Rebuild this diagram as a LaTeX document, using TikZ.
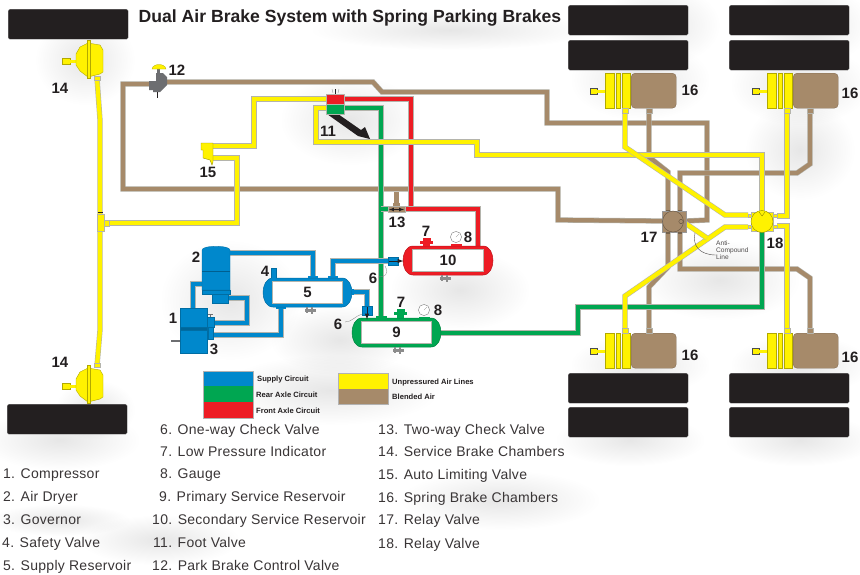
\documentclass[tikz,border=0pt]{standalone}
\usepackage{fontspec}
\setmainfont{Liberation Sans}
\usetikzlibrary{fadings}
\definecolor{cblue}{HTML}{0088CC}
\definecolor{cgreen}{HTML}{00A651}
\definecolor{cred}{HTML}{ED1C24}
\definecolor{cyel}{HTML}{FFF200}
\definecolor{cbrown}{HTML}{A68A6A}
\definecolor{cblack}{HTML}{231F20}
\definecolor{cgray}{HTML}{6D6E71}
\definecolor{edge}{HTML}{B4B4AC}
\tikzfading[name=blob,inner color=transparent!25,outer color=transparent!100]
\newcommand{\pipe}[3][4.2]{%
  \draw[line width=#1pt+1.1pt,edge,line join=miter] #3;
  \draw[line width=#1pt,#2,line join=miter] #3;}
\newcommand{\wheel}[3]{\node[wheelbox,anchor=north west] (#1) at (#2,#3) {};}
\newcommand{\blob}[4]{\fill[black,opacity=.13,path fading=blob] (#1,#2) ellipse[x radius=#3,y radius=#4];}
% spring brake chamber: name, x, y
\newcommand{\springch}[3]{%
  \fill[cyel] (#2-15,#3+15) rectangle (#2-8,#3+21);
  \draw[cgray!70!black,line width=.3pt] (#2-15,#3+15) rectangle (#2-8,#3+21);
  \fill[cyel] (#2-8,#3+16.5) rectangle (#2,#3+19.5);
  \foreach \a/\b in {0/9,11/15,17/25}{\filldraw[fill=cyel,draw=cyel!70!black,line width=.4pt] (#2+\a,#3) rectangle (#2+\b,#3+35);}
  \node[draw=cbrown!80!black,line width=.4pt,fill=cbrown,rounded corners=4pt,anchor=north west,minimum width=45pt,minimum height=35pt,inner sep=0pt] (#1) at (#2+26,#3) {};}
% service brake chamber: name, y
\newcommand{\servicech}[2]{%
  \coordinate (#1) at (90,#2);
  \fill[cyel,draw=cyel!70!black,line width=.3pt] (62,#2+18) rectangle (70,#2+24);
  \fill[cyel] (70,#2+19.5) rectangle (76,#2+22.5);
  \filldraw[fill=cyel,draw=cyel!70!black,line width=.4pt] (80,#2+7)--(88,#2+3)--(100,#2+5)--(103,#2+10)--(103,#2+32)--(100,#2+34)--(88,#2+37)--(80,#2+31)--(76,#2+25)--(76,#2+14)--cycle;
  \filldraw[fill=cyel,draw=cyel!70!black,line width=.4pt] (87,#2) rectangle (90,#2+38);}
% tank: name,x1,y1,x2,y2,colour,label
\newcommand{\tank}[7]{%
  \filldraw[fill=#6,draw=#6!80!black,line width=.5pt] (#2+10,#3)--(#4-10,#3) .. controls (#4-3,#3) and (#4,#3+8) .. (#4,{(#3+#5)/2}) .. controls (#4,#5-8) and (#4-3,#5) .. (#4-10,#5)--(#2+10,#5) .. controls (#2+3,#5) and (#2,#5-8) .. (#2,{(#3+#5)/2}) .. controls (#2,#3+8) and (#2+3,#3) .. cycle;
  \node[fill=white,draw=edge,line width=.4pt,font=\lab,minimum width=#4pt-#2pt-19pt,minimum height=#5pt-#3pt-7pt,inner sep=0pt] (#1) at ({(#2+#4)/2},{(#3+#5)/2}) {#7};}
\newcommand{\drain}[2]{%
  \fill[gray!90] (#1-5,#2-1.5) rectangle (#1+6,#2+1.5);
  \fill[gray!90] (#1-4,#2-3) rectangle (#1-2,#2+3);
  \fill[gray!90] (#1+1,#2-3.5) rectangle (#1+3,#2+4);}
\newcommand{\gauge}[3]{%
  \filldraw[fill=white,draw=gray,line width=.4pt] (#1,#2) circle (5.6);
  \draw[gray,line width=.3pt] (#1,#2) -- (#1+3,#2-3);
  \fill[#3] (#1-5.5,#2+6.5) rectangle (#1+5.5,#2+8.5);}
\newcommand{\lab}{\fontsize{15}{15}\selectfont\bfseries\color{cblack}}
\tikzset{
  wheelbox/.style={fill=cblack,draw=gray!70,line width=.3pt,rounded corners=1.5pt,minimum width=120pt,minimum height=30pt,inner sep=0pt},
  tag/.style={font=\lab,inner sep=0pt},
  item/.style={font=\fontsize{14}{15}\selectfont\addfontfeature{LetterSpace=2},color=cblack!90,inner sep=0pt,anchor=base west},
  leg/.style={font=\fontsize{7.6}{9}\selectfont\bfseries,color=cblack,inner sep=0pt,anchor=west},
  fit box/.style={draw=gray!60,line width=.4pt}
}
\begin{document}
\begin{tikzpicture}[x=1pt,y=-1pt]
\useasboundingbox (0,0) rectangle (860,574);
\fill[white] (0,0) rectangle (860,574);
% soft background smudges
\blob{85}{60}{50}{45}
\blob{60}{440}{80}{30}
\blob{95}{410}{40}{30}
\blob{160}{540}{80}{25}
\blob{60}{520}{70}{16}
\blob{640}{80}{70}{40}
\blob{800}{85}{70}{40}
\blob{640}{365}{70}{30}
\blob{800}{365}{70}{30}
\blob{660}{25}{60}{40}
\blob{810}{25}{60}{40}
\blob{630}{440}{75}{26}
\blob{800}{440}{75}{26}
\blob{350}{120}{70}{45}
\blob{450}{30}{140}{20}
\blob{230}{300}{70}{60}
\blob{340}{340}{70}{35}
\blob{460}{290}{70}{40}
\blob{330}{390}{110}{35}
\blob{500}{500}{100}{30}
\blob{720}{280}{80}{40}
\blob{800}{150}{55}{50}
% wheels
\wheel{wa}{8}{9}\wheel{wb}{7}{404}
\wheel{wc}{568}{5}\wheel{wd}{568}{40}\wheel{we}{729}{5}\wheel{wf}{729}{40}
\wheel{wg}{568}{373}\wheel{wh}{568}{407}\wheel{wi}{729}{373}\wheel{wj}{729}{407}
% title
\node[font=\fontsize{17.6}{18}\selectfont\bfseries,color=cblack,inner sep=0pt] (title) at (350,18) {Dual Air Brake System with Spring Parking Brakes};
% named ports
\coordinate (relayL) at (662,221);\coordinate (relayR) at (686,221);
\coordinate (parkR) at (165,82);\coordinate (parkL) at (150,84);
% blended air lines
\pipe{cbrown}{(parkL) -- (123,84) -- (123,189) -- (558,189) -- (558,220) -- (relayL)}
\pipe{cbrown}{(parkR) -- (373,82) -- (382,92) -- (547,92) -- (547,123) -- (707,123) -- (707,220) -- (relayR)}
\pipe{cbrown}{(396.5,192) -- (396.5,206)}
\pipe{cbrown}{(649,113) -- (649,157) -- (668,172) -- (668,212)}
\pipe{cbrown}{(810,113) -- (810,164) -- (797,173) -- (680,173) -- (680,212)}
\pipe{cbrown}{(668,231) -- (668,267) -- (649,287) -- (649,331)}
\pipe{cbrown}{(680,231) -- (680,269) -- (797,269) -- (810,278) -- (810,331)}
% circuits
\pipe{cgreen}{(344,108) -- (381,108) -- (381,318)}
\pipe{cgreen}{(381,209) -- (389,209)}
\pipe{cgreen}{(440,333) -- (578,333) -- (578,307) -- (762,307) -- (762,231)}
\pipe{cred}{(344,99) -- (411,99) -- (411,209)}
\pipe{cred}{(405,209) -- (478,209) -- (478,246)}
% unpressured lines
\pipe{cyel}{(326,108) -- (316,108) -- (316,142) -- (477,142) -- (477,155) -- (762,155) -- (762,212)}
\pipe{cyel}{(327,99) -- (254,99) -- (254,146) -- (213,146)}
\pipe{cyel}{(213,158) -- (237,158) -- (237,223) -- (108,223)}
\pipe{cyel}{(625,113) -- (625,147) -- (725,215) -- (748,215)}
\pipe{cyel}{(787,113) -- (787,216) -- (777,216)}
\pipe{cyel}{(748,227) -- (725,227) -- (625,296) -- (625,331)}
\pipe{cyel}{(777,226) -- (787,226) -- (787,331)}
\pipe{cyel}{(685,223) -- (707,238)}
\pipe{cyel}{(97,78) -- (100,120) -- (100,214)}
\pipe{cyel}{(100,230) -- (100,330) -- (97,366)}
\filldraw[fill=cyel,draw=edge,line width=.4pt] (97,214) rectangle (104,231);
\filldraw[fill=cyel,draw=edge,line width=.4pt] (104,220) rectangle (109,226);
\draw[cblack,line width=.6pt] (98,212) -- (103,212);
% chambers
\springch{sa}{605}{73}\springch{sb}{767}{73}\springch{sc}{605}{333}\springch{sd}{767}{333}
\foreach \x/\c/\y in {625/cyel/108,649/cbrown/108,787/cyel/108,810/cbrown/108}{\filldraw[fill=\c,draw=edge,line width=.3pt] (\x-3,\y) rectangle (\x+3,\y+5);}
\foreach \x/\c/\y in {625/cyel/328,649/cbrown/328,787/cyel/328,810/cbrown/328}{\filldraw[fill=\c,draw=edge,line width=.3pt] (\x-3,\y) rectangle (\x+3,\y+5);}
\servicech{ch1}{40}\servicech{ch2}{365}
\filldraw[fill=cyel,draw=edge,line width=.3pt] (94,76) rectangle (100,80);
\filldraw[fill=cyel,draw=edge,line width=.3pt] (94,363) rectangle (100,367);
% relay valves
\filldraw[fill=cbrown,draw=gray!80,line width=.4pt] (662,211) rectangle (686,232);
\filldraw[fill=cbrown,draw=cbrown!60!black,line width=.4pt] (673,221.5) circle (10.5);
\draw[cbrown!50!black,line width=.3pt] (681,221.5) circle (2.2);
\foreach \x in {668,680}{\fill[cbrown!70!black] (\x-2,209.5) rectangle (\x+2,211);\fill[cbrown!70!black] (\x-2,232) rectangle (\x+2,233.5);}
\filldraw[fill=cyel,draw=edge,line width=.4pt] (751,212) rectangle (773,231);
\filldraw[fill=cyel,draw=cyel!60!black,line width=.4pt] (762,221.5) circle (11);
\draw[cyel!50!black,line width=.3pt] (759,212) -- (762,216) -- (765,212);
\foreach \y in {216,227}{\filldraw[fill=cyel,draw=edge,line width=.3pt] (748,\y-2) rectangle (751,\y+1);\filldraw[fill=cyel,draw=edge,line width=.3pt] (773,\y-2) rectangle (777,\y+1);}
% anti-compound
\draw[cblack!80,line width=.4pt] (695,233) .. controls (692,246) and (700,255) .. (716,255);
\node[font=\fontsize{6.6}{7}\selectfont,color=cblack!80,align=left,inner sep=0pt,anchor=west] (anti) at (716,250) {Anti-\\Compound\\Line};
% park valve
\fill[cgray] (149,81)--(156,81)--(156,73)--(163,73)--(167,77)--(167,85)--(160,92)--(153,92)--(153,90)--(149,90)--cycle;
\fill[cgray] (157,68) rectangle (160,74);
\filldraw[fill=cyel,draw=cyel!70!black,line width=.3pt] (152,69) .. controls (153,63) and (165,63) .. (166,69) -- cycle;
\draw[cblack,line width=.4pt] (157.5,92)--(157.5,98);
% exhaust valve 15
\filldraw[fill=cyel,draw=cyel!60!black,line width=.4pt] (201,143)--(213,143)--(213,162)--(212,165)--(210,160)--(203,158)--(203,150)--(201,150)--cycle;
% foot valve
\fill[cblack] (327,114)--(338,114)--(361,130)--(365,127)--(370,139)--(358,136)--cycle;
\filldraw[fill=cred,draw=edge,line width=.4pt] (326,94) rectangle (344,104);
\filldraw[fill=cgreen,draw=edge,line width=.4pt] (326,104) rectangle (344,114);
\draw[cblack,line width=.5pt] (335.5,89)--(335.5,94);
\draw[gray,line width=.3pt] (332,89)--(333,93) (339,89)--(338,93);
% valve 13
\fill[cbrown] (392.5,203) rectangle (400,206);
\filldraw[fill=cbrown,draw=edge,line width=.4pt] (388,206) rectangle (405,212);
\draw[cblack,line width=.7pt,<->,>=latex] (389,209.5) -- (404,209.5);
% supply lines
\pipe{cblue}{(230,253) -- (313,253) -- (313,278)}
\pipe{cblue}{(202,284) -- (193,284) -- (193,309)}
\pipe{cblue}{(228,298) -- (247,298) -- (247,323) -- (214,323)}
\pipe{cblue}{(213,335) -- (281,335) -- (281,307)}
\pipe{cblue}{(352,292) -- (367,292) -- (367,307)}
\pipe{cblue}{(333,278) -- (333,261) -- (390,261)}
% compressor, dryer, governor
\filldraw[fill=cblue,draw=cblue!80!black,line width=.3pt] (202,250) .. controls (202,245) and (230,245) .. (230,250) -- (230,290) -- (202,290) -- cycle;
\draw[cblue!70!black,line width=.4pt] (202,271) -- (230,271);
\filldraw[fill=cblue,draw=cblue!80!black,line width=.3pt] (202,290) rectangle (230,294);
\filldraw[fill=cblue,draw=cblue!80!black,line width=.3pt] (212,294) rectangle (228,303);
\fill[cblue] (230,251) rectangle (232,255);
\filldraw[fill=cblue,draw=cblue!80!black,line width=.3pt] (180,308) rectangle (207,327);
\filldraw[fill=cblue!75!black,draw=cblue!80!black,line width=.3pt] (180,327) rectangle (207,330);
\filldraw[fill=cblue,draw=cblue!80!black,line width=.3pt] (180,330) rectangle (207,353);
\fill[cgray] (171,340) rectangle (180,342);
\filldraw[fill=cblue,draw=cblue!80!black,line width=.3pt] (207,317) rectangle (214,327);
\filldraw[fill=cblue,draw=cblue!80!black,line width=.3pt] (208,327) rectangle (213,339);
\fill[cgray] (209.5,314) rectangle (211,317);\fill[cgray] (208,313.5) rectangle (212.5,314.5);
% tanks
\foreach \x/\y/\c in {313/276/cblue,333/276/cblue,281/306/cblue}{\fill[\c] (\x-5,\y) rectangle (\x+5,\y+3);}
\tank{t5}{263}{278}{352}{307}{cblue}{5}
\tank{t10}{403}{246}{493}{275}{cred}{10}
\tank{t9}{352}{318}{441}{347}{cgreen}{9}
\filldraw[fill=cblue,draw=cblue!80!black,line width=.3pt] (271,268) rectangle (276,277);
\fill[cblue] (271.5,277) rectangle (275.5,279);
\fill[cblue] (352,289) rectangle (354,295);
% check valves
\filldraw[fill=cblue,draw=cblue!80!black,line width=.3pt] (362,306) rectangle (372,315);
\draw[cblack,line width=1pt,-latex] (367,307) -- (367,319.5);
\filldraw[fill=cblue,draw=cblue!80!black,line width=.3pt] (388,257) rectangle (398,265);
\draw[cblack,line width=1pt,-latex] (389,261) -- (403.5,261);
\draw[gray,line width=.3pt] (385,266) .. controls (390,275) and (384,277) .. (378,277);
\draw[gray,line width=.3pt] (362,314) .. controls (355,316) and (352,322) .. (345,322);
% indicators, gauges, fittings
\fill[cred] (423,238) rectangle (431,242);\fill[cred] (420,241) rectangle (433,244);\fill[cred] (423,244) rectangle (430,246);
\fill[cgreen] (397,309) rectangle (405,313);\fill[cgreen] (394,312) rectangle (407,315);\fill[cgreen] (397,315) rectangle (404,318);
\gauge{456}{237}{cred}\gauge{424}{310}{cgreen}
\fill[cgreen] (376,316) rectangle (387,318.5);
\drain{310}{310}\drain{445}{278}\drain{398}{350}
% legend
\fill[cblue] (203,371) rectangle (253,386);
\fill[cgreen] (203,386) rectangle (253,402);
\fill[cred] (203,402) rectangle (253,418);
\draw[fit box] (203,371) rectangle (253,418);
\fill[cyel] (338,373) rectangle (388,389);
\fill[cbrown] (338,389) rectangle (388,404);
\draw[fit box] (338,373) rectangle (388,404);
\node[leg] (l1) at (257,379.5) {Supply Circuit};
\node[leg] (l2) at (256,394.5) {Rear Axle Circuit};
\node[leg] (l3) at (256,411) {Front Axle Circuit};
\node[leg] (l4) at (392,382.5) {Unpressured Air Lines};
\node[leg] (l5) at (392,396.5) {Blended Air};
% tags
\foreach \n/\x/\y/\t in {a/60/88/14,b/60/362/14,c/177/70/12,d/208/172/15,e/328/131/11,f/397/222/13,g/426/231/7,h/468/237/8,i/196/257/2,j/265/271/4,k/373/278/6,m/173/318/1,n/214/349/3,o/338/324/6,p/401/302/7,q/438/310/8,r/690/90/16,s/850/93/16,u/690/355/16,v/850/357/16,w/649/237/17,z/775/243/18}{\node[tag] (tag\n) at (\x,\y) {\t};}
% lists
\foreach \n/\x/\y/\t in {
 a/3/478/1. Compressor,b/3/501/2. Air Dryer,c/3/524/3. Governor,d/2/547/4. Safety Valve,e/3/570/5. Supply Reservoir,
 f/160/434/6. One-way Check Valve,g/160/456/7. Low Pressure Indicator,h/160/478/8. Gauge,i/159/501/9. Primary Service Reservoir,j/152/524/10. Secondary Service Reservoir,k/153/547/11. Foot Valve,m/152/570/12. Park Brake Control Valve,
 n/378/434/13. Two-way Check Valve,o/378/456/14. Service Brake Chambers,p/378/479/15. Auto Limiting Valve,q/378/502/16. Spring Brake Chambers,r/378/524/17. Relay Valve,s/378/548/18. Relay Valve}{\node[item] (it\n) at (\x,\y) {\t};}
\end{tikzpicture}
\end{document}
